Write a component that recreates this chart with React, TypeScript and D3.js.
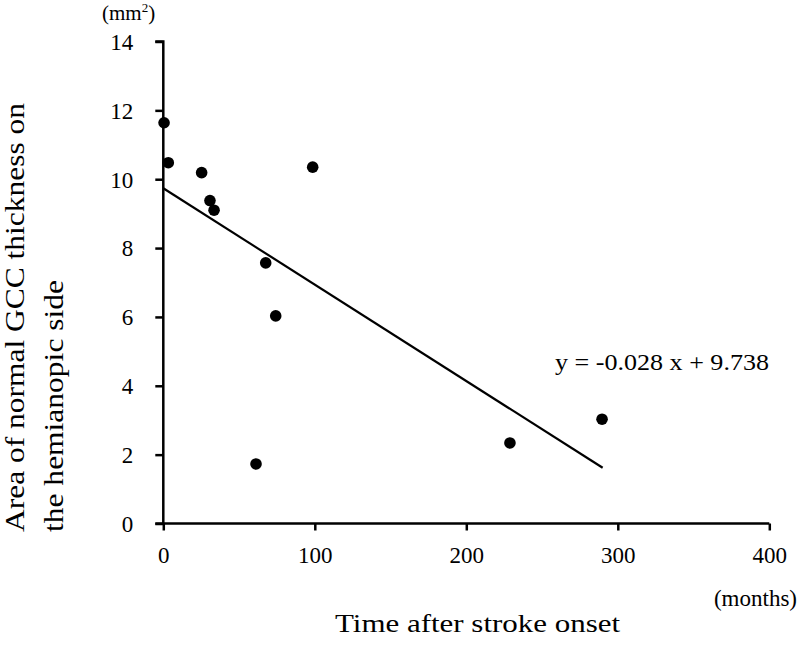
import React, { useEffect, useRef } from "react";
import * as d3 from "d3";

const months = [0.5, 3.3, 25.3, 98.6, 30.8, 33.5, 67.6, 74.2, 61.2, 228.8, 289.6];
const areas = [11.64, 10.48, 10.19, 10.35, 9.38, 9.1, 7.57, 6.03, 1.73, 2.34, 3.03];
const xTicks = [0, 100, 200, 300, 400];
const yTicks = [0, 2, 4, 6, 8, 10, 12, 14];
const slope = -0.028;
const intercept = 9.738;
const trendRange = [0, 290];

const FONT = "'Liberation Serif', 'Times New Roman', serif";

export default function App() {
  const ref = useRef<SVGSVGElement>(null);
  useEffect(() => {
    const svg = d3.select(ref.current);
    svg.selectAll("*").remove();
    const x = d3.scaleLinear().domain([0, 400]).range([163.3, 769.3]);
    const y = d3.scaleLinear().domain([0, 14]).range([523.5, 41.5]);

    const xAxis = svg.append("g").attr("transform", `translate(0,${y(0)})`)
      .call(d3.axisBottom(x).tickValues(xTicks).tickSize(7).tickSizeOuter(0));
    const yAxis = svg.append("g").attr("transform", `translate(${x(0)},0)`)
      .call(d3.axisLeft(y).tickValues(yTicks).tickSize(8).tickSizeOuter(0));
    [xAxis, yAxis].forEach((g) => {
      g.select(".domain").attr("stroke", "#000").attr("stroke-width", 2.5);
      g.selectAll(".tick line").attr("stroke", "#000").attr("stroke-width", 2.5);
      g.selectAll(".tick text").attr("font-family", FONT).attr("font-size", 23).attr("fill", "#000");
    });
    xAxis.selectAll(".tick text").attr("y", 39.5).attr("dy", 0);
    yAxis.selectAll(".tick text").attr("x", -30).attr("dy", "0.34em");
    xAxis.select(".domain").attr("d", `M${x(0) - 8},0H${x(400)}`);
    yAxis.select(".domain").attr("d", `M-8,${y(14)}H0V${y(0)}`);

    svg.append("line")
      .attr("x1", x(trendRange[0])).attr("y1", y(intercept + slope * trendRange[0]))
      .attr("x2", x(trendRange[1])).attr("y2", y(intercept + slope * trendRange[1]))
      .attr("stroke", "#000").attr("stroke-width", 2.2);

    svg.append("g").selectAll("circle").data(months.map((m, i) => [m, areas[i]]))
      .join("circle")
      .attr("cx", (d) => x(d[0])).attr("cy", (d) => y(d[1])).attr("r", 5.8).attr("fill", "#000");

    const t = (txt: string, px: number, py: number, size: number, len?: number, anchor = "start") => {
      const el = svg.append("text").attr("x", px).attr("y", py).attr("font-family", FONT)
        .attr("font-size", size).attr("text-anchor", anchor).attr("fill", "#000").text(txt);
      if (len) el.attr("textLength", len).attr("lengthAdjust", "spacingAndGlyphs");
      return el;
    };

    t("y = -0.028 x + 9.738", 555, 370, 23, 214);
    t("(months)", 797, 606, 23, undefined, "end");
    t("Time after stroke onset", 335, 632, 26, 285);
    const mm = t("(mm", 102, 20, 21);
    mm.append("tspan").attr("dy", -8).attr("font-size", 13).text("2");
    mm.append("tspan").attr("dy", 8).text(")");

    svg.append("text").attr("transform", "translate(24,532) rotate(-90)")
      .attr("font-family", FONT).attr("font-size", 27).attr("fill", "#000")
      .attr("textLength", 429).attr("lengthAdjust", "spacingAndGlyphs")
      .text("Area of normal GCC thickness on");
    svg.append("text").attr("transform", "translate(63,532) rotate(-90)")
      .attr("font-family", FONT).attr("font-size", 27).attr("fill", "#000")
      .attr("textLength", 252).attr("lengthAdjust", "spacingAndGlyphs")
      .text("the hemianopic side");
  }, []);
  return (
    <svg ref={ref} width={800} height={653}
      style={{ position: "absolute", left: 0, top: 0, background: "#fff" }} />
  );
}
